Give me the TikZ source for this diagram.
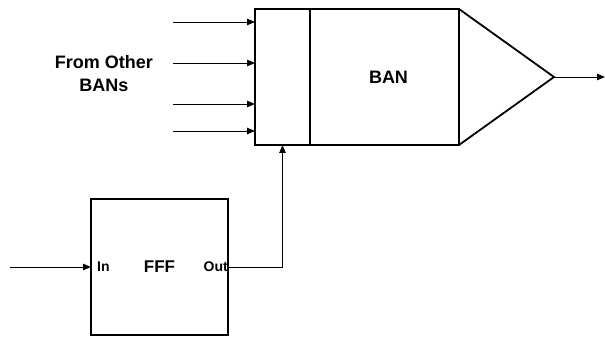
\documentclass[tikz,border=0pt]{standalone}
\usepackage{fontspec}
\setmainfont{Liberation Sans}
\usetikzlibrary{arrows.meta}
\begin{document}
\begin{tikzpicture}[x=1pt,y=1pt,
  blk/.style={draw, line width=1.8pt, inner sep=0pt, outer sep=0pt, font=\fontsize{18}{22}\selectfont\bfseries},
  arr/.style={line width=0.9pt, -{Triangle[length=8pt,width=6.5pt]}},
  lbl/.style={font=\fontsize{18}{23}\selectfont\bfseries, align=center, inner sep=0pt},
  port/.style={font=\fontsize{14}{16}\selectfont\bfseries, inner sep=0pt}]
\useasboundingbox (0,0) rectangle (605,-339);
% BAN block
\node[blk, minimum width=55pt, minimum height=136pt] (mux) at (282.5,-77) {};
\node[blk, minimum width=149pt, minimum height=136pt, anchor=west] (ban) at (mux.east) {\hspace*{8pt}BAN};
\coordinate (tip) at (554,-77);
\draw[line width=1.8pt, line join=miter] (ban.north east) -- (tip) -- (ban.south east);
\coordinate (out) at (605,-77);
\draw[arr] (tip) -- (out);
% inputs from other BANs
\coordinate (s1) at (173,-22);
\coordinate (s2) at (173,-63);
\coordinate (s3) at (173,-104);
\coordinate (s4) at (173,-131);
\foreach \s in {s1,s2,s3,s4} \draw[arr] (\s) -- (\s -| mux.west);
\node[lbl] (from) at (104,-74) {From Other\\BANs};
% FFF block
\node[blk, minimum width=137pt, minimum height=136pt, font=\fontsize{17}{20}\selectfont\bfseries] (fff) at (159.5,-267) {FFF};
\node[port, anchor=west] (in) at ([xshift=6pt]fff.west) {In};
\node[port, anchor=east] (outl) at (fff.east) {Out};
\coordinate (src) at (10,-267);
\draw[arr] (src) -- (fff.west);
\draw[arr] (fff.east) -| (mux.south);
\end{tikzpicture}
\end{document}
